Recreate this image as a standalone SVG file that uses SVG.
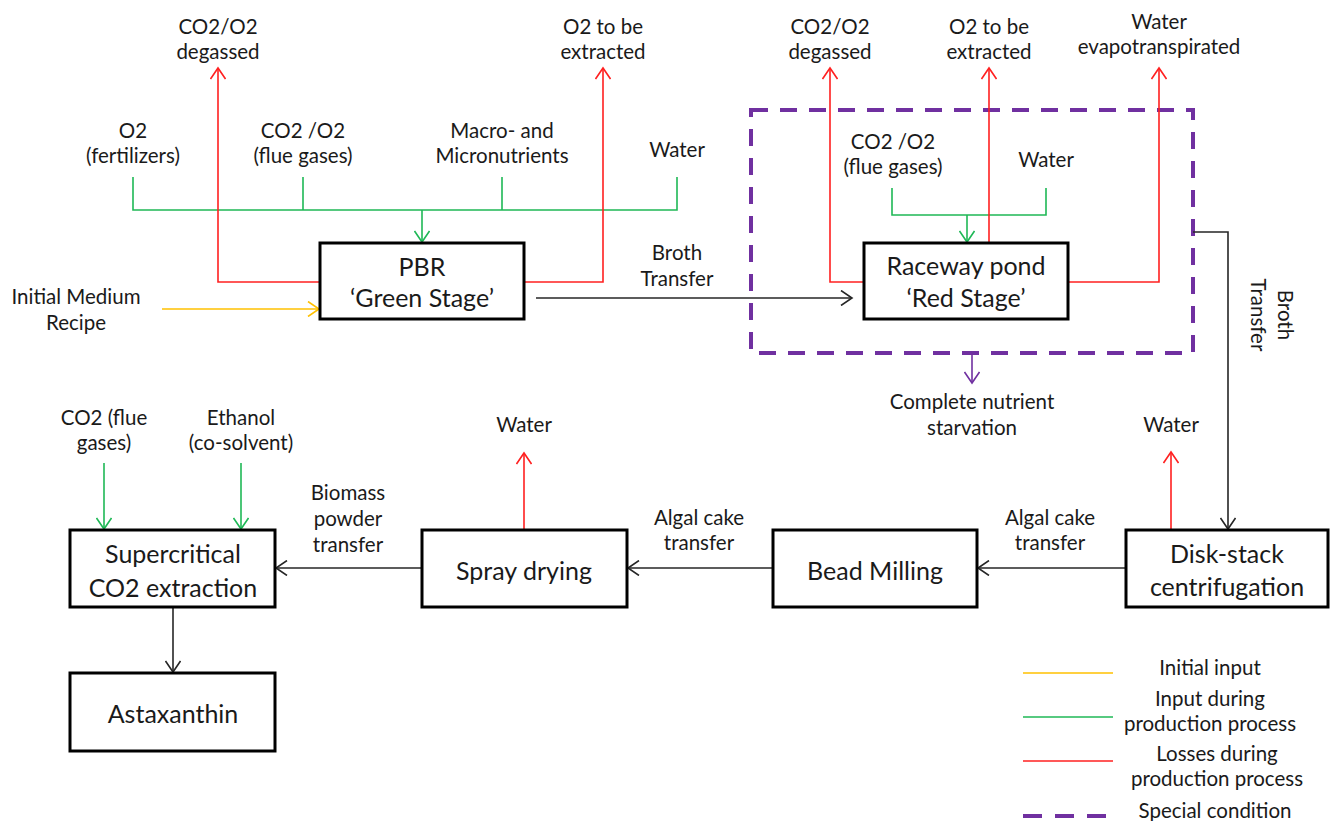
<svg xmlns="http://www.w3.org/2000/svg" width="1338" height="821" viewBox="0 0 1338 821">
<style>
text{font-family:Lato,"Liberation Sans",sans-serif;fill:#1a1a1a;text-anchor:middle}
.lb{font-size:20.5px}
.bx{font-size:25px}
.box{fill:#fff;stroke:#000;stroke-width:3}
.c{fill:none;stroke-width:1.6}
.red{stroke:#ff2020}
.grn{stroke:#1fb856}
.yel{stroke:#ffc000}
.blk{stroke:#262626}
.pur{stroke:#7030a0}
.dash{fill:none;stroke:#7030a0;stroke-width:4;stroke-dasharray:17 12}
</style>
<defs>
<marker id="aR" markerUnits="userSpaceOnUse" markerWidth="16" markerHeight="16" viewBox="0 0 16 16" refX="14" refY="8" orient="auto"><path d="M3,0.5 L14,8 L3,15.5" fill="none" stroke="#ff2020" stroke-width="1.6"/></marker>
<marker id="aG" markerUnits="userSpaceOnUse" markerWidth="16" markerHeight="16" viewBox="0 0 16 16" refX="14" refY="8" orient="auto"><path d="M3,0.5 L14,8 L3,15.5" fill="none" stroke="#1fb856" stroke-width="1.6"/></marker>
<marker id="aY" markerUnits="userSpaceOnUse" markerWidth="16" markerHeight="16" viewBox="0 0 16 16" refX="14" refY="8" orient="auto"><path d="M3,0.5 L14,8 L3,15.5" fill="none" stroke="#ffc000" stroke-width="1.6"/></marker>
<marker id="aK" markerUnits="userSpaceOnUse" markerWidth="16" markerHeight="16" viewBox="0 0 16 16" refX="14" refY="8" orient="auto"><path d="M3,0.5 L14,8 L3,15.5" fill="none" stroke="#262626" stroke-width="1.6"/></marker>
<marker id="aP" markerUnits="userSpaceOnUse" markerWidth="16" markerHeight="16" viewBox="0 0 16 16" refX="14" refY="8" orient="auto"><path d="M3,0.5 L14,8 L3,15.5" fill="none" stroke="#7030a0" stroke-width="1.6"/></marker>
</defs>
<rect width="1338" height="821" fill="#fff"/>

<g id="special-condition">
<rect class="dash" x="751" y="110" width="442" height="243"/>
</g>

<g id="connectors">
<path class="c grn" d="M133,177 V210 H677 V177 M303,177 V210 M502,177 V210"/>
<path class="c grn" d="M422,210 V242" marker-end="url(#aG)"/>
<path class="c red" d="M320,282 H218 V68" marker-end="url(#aR)"/>
<path class="c red" d="M524,282 H603 V68" marker-end="url(#aR)"/>
<path class="c yel" d="M162,309 H319" marker-end="url(#aY)"/>
<path class="c blk" d="M536,298 H852" marker-end="url(#aK)"/>
<path class="c red" d="M864,282 H830 V68" marker-end="url(#aR)"/>
<path class="c grn" d="M892,188 V215 H1046 V188"/>
<path class="c grn" d="M967,215 V242" marker-end="url(#aG)"/>
<path class="c red" d="M989,243 V68" marker-end="url(#aR)"/>
<path class="c red" d="M1068,282 H1159 V68" marker-end="url(#aR)"/>
<path class="c blk" d="M1193,232 H1228 V529" marker-end="url(#aK)"/>
<path class="c pur" d="M972,355 V383" marker-end="url(#aP)"/>
<path class="c red" d="M1171,530 V452" marker-end="url(#aR)"/>
<path class="c red" d="M524,530 V453" marker-end="url(#aR)"/>
<path class="c blk" d="M1126,568 H978" marker-end="url(#aK)"/>
<path class="c blk" d="M773,568 H628" marker-end="url(#aK)"/>
<path class="c blk" d="M422,568 H276" marker-end="url(#aK)"/>
<path class="c blk" d="M173,607 V672" marker-end="url(#aK)"/>
<path class="c grn" d="M104,463 V529" marker-end="url(#aG)"/>
<path class="c grn" d="M241,463 V529" marker-end="url(#aG)"/>
</g>

<g id="connector-labels" class="lb">
<text x="218" y="34">CO2/O2</text><text x="218" y="59">degassed</text>
<text x="603" y="34">O2 to be</text><text x="603" y="59">extracted</text>
<text x="133" y="138">O2</text><text x="133" y="163">(fertilizers)</text>
<text x="303" y="138">CO2 /O2</text><text x="303" y="163">(flue gases)</text>
<text x="502" y="138">Macro- and</text><text x="502" y="163">Micronutrients</text>
<text x="677" y="157">Water</text>
<text x="76" y="304">Initial Medium</text><text x="76" y="330">Recipe</text>
<text x="677" y="260">Broth</text><text x="677" y="286">Transfer</text>
<text x="830" y="34">CO2/O2</text><text x="830" y="59">degassed</text>
<text x="989" y="34">O2 to be</text><text x="989" y="59">extracted</text>
<text x="1159" y="29">Water</text><text x="1159" y="54">evapotranspirated</text>
<text x="893" y="149">CO2 /O2</text><text x="893" y="174">(flue gases)</text>
<text x="1046" y="167">Water</text>
<g transform="translate(1271,315) rotate(90)"><text x="0" y="-7">Broth</text><text x="0" y="20">Transfer</text></g>
<text x="972" y="409">Complete nutrient</text><text x="972" y="435">starvation</text>
<text x="1171" y="432">Water</text>
<text x="524" y="432">Water</text>
<text x="104" y="425">CO2 (flue</text><text x="104" y="450">gases)</text>
<text x="241" y="425">Ethanol</text><text x="241" y="450">(co-solvent)</text>
<text x="348" y="500">Biomass</text><text x="348" y="526">powder</text><text x="348" y="552">transfer</text>
<text x="699" y="525">Algal cake</text><text x="699" y="550">transfer</text>
<text x="1050" y="525">Algal cake</text><text x="1050" y="550">transfer</text>
</g>

<g id="pbr"><rect class="box" x="320" y="243" width="204" height="76"/><text class="bx" x="422" y="276">PBR</text><text class="bx" x="422" y="307">‘Green Stage’</text></g>
<g id="raceway"><rect class="box" x="864" y="243" width="204" height="76"/><text class="bx" x="966" y="275">Raceway pond</text><text class="bx" x="966" y="307">‘Red Stage’</text></g>
<g id="supercritical"><rect class="box" x="70" y="530" width="205" height="77"/><text class="bx" x="173" y="563">Supercritical</text><text class="bx" x="173" y="597">CO2 extraction</text></g>
<g id="astaxanthin"><rect class="box" x="70" y="673" width="205" height="78"/><text class="bx" x="173" y="723">Astaxanthin</text></g>
<g id="spray-drying"><rect class="box" x="422" y="530" width="205" height="77"/><text class="bx" x="524" y="580">Spray drying</text></g>
<g id="bead-milling"><rect class="box" x="773" y="530" width="204" height="77"/><text class="bx" x="875" y="580">Bead Milling</text></g>
<g id="disk-stack"><rect class="box" x="1126" y="530" width="202" height="77"/><text class="bx" x="1227" y="563">Disk-stack</text><text class="bx" x="1227" y="596">centrifugation</text></g>

<g id="legend" class="lb">
<line class="c yel" x1="1023" y1="673" x2="1113" y2="673"/>
<line class="c grn" x1="1023" y1="717" x2="1113" y2="717"/>
<line class="c red" x1="1023" y1="761" x2="1113" y2="761"/>
<line x1="1023" y1="816" x2="1106" y2="816" stroke="#7030a0" stroke-width="4" stroke-dasharray="19 13"/>
<text x="1210" y="675">Initial input</text>
<text x="1210" y="706">Input during</text><text x="1210" y="731">production process</text>
<text x="1217" y="761">Losses during</text><text x="1217" y="786">production process</text>
<text x="1215" y="818">Special condition</text>
</g>
</svg>
